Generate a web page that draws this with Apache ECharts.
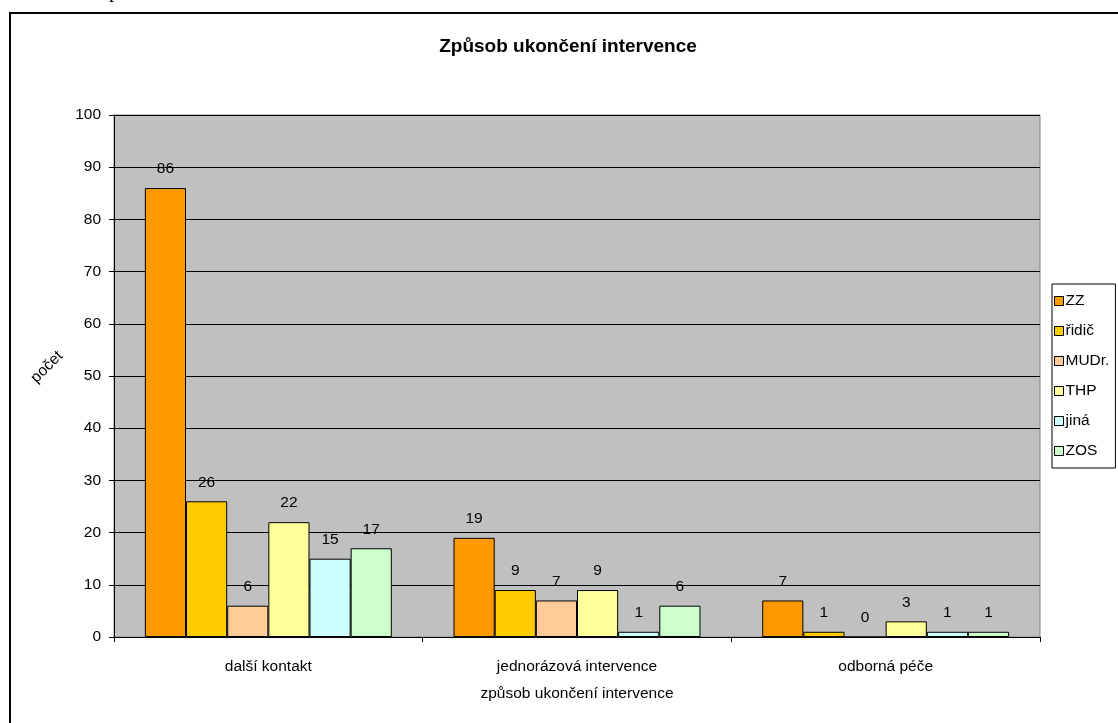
<!DOCTYPE html>
<html>
<head>
<meta charset="utf-8">
<script src="https://cdn.jsdelivr.net/npm/echarts@6/dist/echarts.min.js"></script>
<style>
  html, body { margin: 0; padding: 0; background: #fff; }
  #chart { width: 1118px; height: 723px; }
</style>
</head>
<body>
<div id="chart"></div>
<script>
// Categories of how an intervention ended
const categories = ['další kontakt', 'jednorázová intervence', 'odborná péče'];

// Counts per group of staff
const seriesNames = ['ZZ', 'řidič', 'MUDr.', 'THP', 'jiná', 'ZOS'];
const valuesZZ    = [86, 19, 7];
const valuesRidic = [26, 9, 1];
const valuesMUDr  = [6, 7, 0];
const valuesTHP   = [22, 9, 3];
const valuesJina  = [15, 1, 1];
const valuesZOS   = [17, 6, 1];

const yTicks = [0, 10, 20, 30, 40, 50, 60, 70, 80, 90, 100];

const seriesValues = [valuesZZ, valuesRidic, valuesMUDr, valuesTHP, valuesJina, valuesZOS];
const colors = ['#FF9900', '#FFCC00', '#FFCC99', '#FFFF99', '#CCFFFF', '#CCFFCC'];

const FONT = '"Liberation Sans", Arial, sans-serif';
const FS = 15.5;

const chart = echarts.init(document.getElementById('chart'), null, { renderer: 'canvas' });

const series = seriesNames.map((name, i) => ({
  name: name,
  type: 'bar',
  data: seriesValues[i],
  barGap: '0%',
  barCategoryGap: '20%',
  itemStyle: { color: colors[i], borderColor: '#000', borderWidth: 1 },
  label: {
    show: true,
    position: 'top',
    distance: 11,
    color: '#000',
    fontFamily: FONT,
    fontSize: FS
  }
}));

const option = {
  animation: false,
  backgroundColor: '#fff',
  textStyle: { fontFamily: FONT },
  grid: {
    left: 114, right: 78, top: 115, bottom: 86,
    show: true,
    backgroundColor: '#C0C0C0',
    borderColor: '#808080',
    borderWidth: 1
  },
  legend: {
    orient: 'vertical',
    left: 1052,
    top: 284,
    data: seriesNames,
    icon: 'rect',
    itemWidth: 9,
    itemHeight: 9,
    itemGap: 14,
    padding: [9, 6, 9, 2],
    borderColor: '#000',
    borderWidth: 1,
    backgroundColor: '#fff',
    itemStyle: { borderColor: '#000', borderWidth: 1 },
    textStyle: { fontFamily: FONT, fontSize: FS, color: '#000', padding: [0, 0, 0, -3] }
  },
  xAxis: {
    type: 'category',
    data: categories,
    name: 'způsob ukončení intervence',
    nameLocation: 'middle',
    nameGap: 49,
    nameTextStyle: { fontFamily: FONT, fontSize: FS, color: '#000' },
    axisLine: { show: true, lineStyle: { color: '#000', width: 1 } },
    axisTick: { show: true, alignWithLabel: false, length: 5, lineStyle: { color: '#000' } },
    axisLabel: { fontFamily: FONT, fontSize: FS, color: '#000', margin: 22 },
    splitLine: { show: false }
  },
  yAxis: {
    type: 'value',
    min: yTicks[0],
    max: yTicks[yTicks.length - 1],
    interval: yTicks[1] - yTicks[0],
    axisLine: { show: true, lineStyle: { color: '#000', width: 1 } },
    axisTick: { show: true, length: 5, lineStyle: { color: '#000' } },
    axisLabel: { fontFamily: FONT, fontSize: FS, color: '#000', margin: 13 },
    splitLine: { show: true, lineStyle: { color: '#000', width: 1 } }
  },
  series: series,
  graphic: [
    {
      type: 'rect',
      z: -10,
      silent: true,
      shape: { x: 10, y: 13, width: 1200, height: 800 },
      style: { fill: 'none', stroke: '#000', lineWidth: 2 }
    },
    {
      type: 'text',
      left: 17,
      top: -19,
      silent: true,
      style: {
        text: 'Graf č. 7 Způsob ukončení intervence',
        font: '21px "Liberation Serif", "Times New Roman", serif',
        fill: '#000'
      }
    },
    {
      type: 'text',
      x: 568,
      y: 47,
      silent: true,
      style: {
        text: 'Způsob ukončení intervence',
        font: 'bold 19px "Liberation Sans", Arial, sans-serif',
        fill: '#000',
        align: 'center',
        verticalAlign: 'middle'
      }
    },
    {
      type: 'text',
      x: 47,
      y: 367,
      rotation: Math.PI / 4,
      silent: true,
      style: {
        text: 'počet',
        font: '15.5px "Liberation Sans", Arial, sans-serif',
        fill: '#000',
        align: 'center',
        verticalAlign: 'middle'
      }
    }
  ]
};

chart.setOption(option);
</script>
</body>
</html>
